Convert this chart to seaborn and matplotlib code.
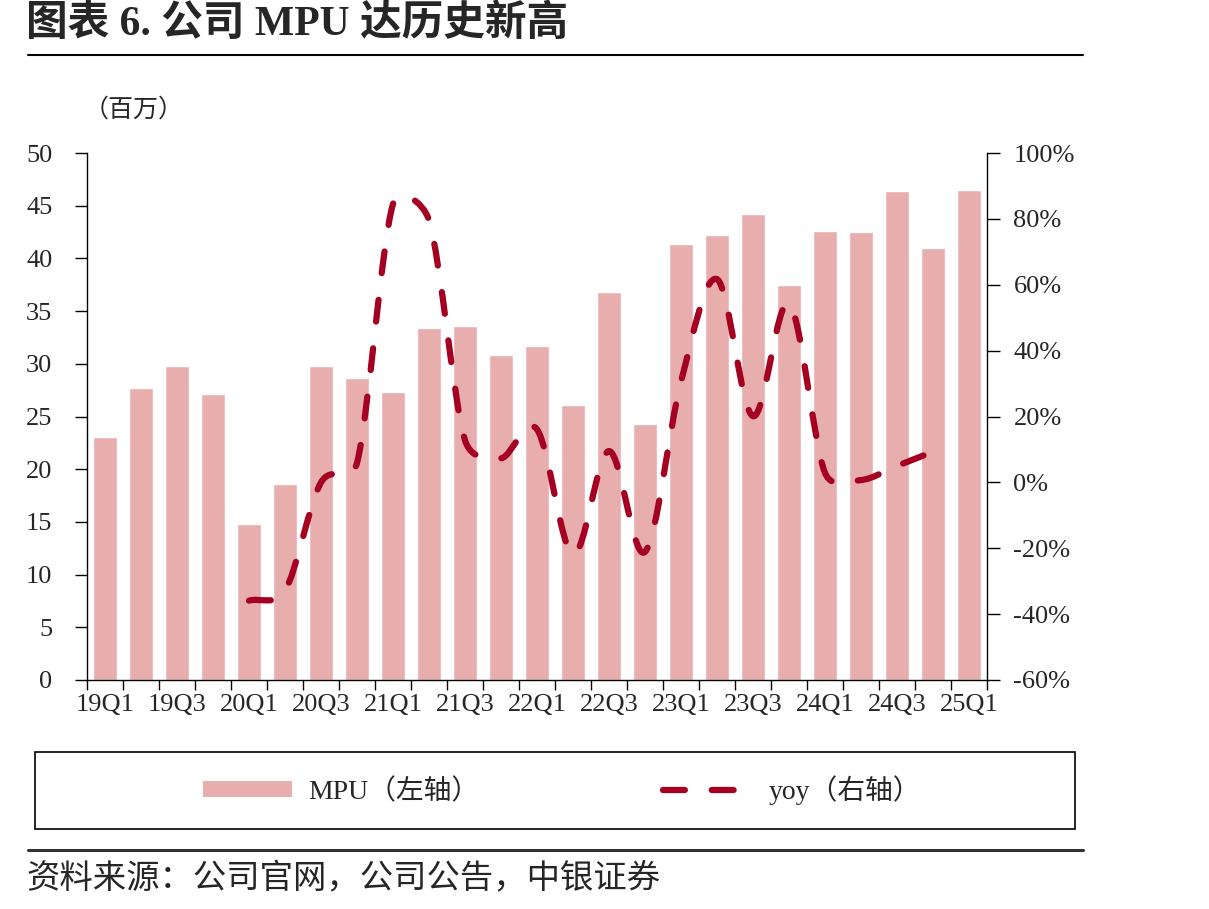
import numpy as np
import pandas as pd
import matplotlib
matplotlib.use("Agg")
import matplotlib.pyplot as plt
from matplotlib.path import Path
from matplotlib.patches import PathPatch, Patch, Rectangle
from matplotlib.lines import Line2D
from matplotlib.ticker import FuncFormatter, FixedLocator
import seaborn as sns

sns.set_style("ticks")
plt.rcParams['font.family'] = ['Liberation Serif', 'Noto Sans CJK SC', 'DejaVu Sans']
plt.rcParams['axes.unicode_minus'] = False

# data
quarters = ['19Q1', '19Q2', '19Q3', '19Q4', '20Q1', '20Q2', '20Q3', '20Q4',
            '21Q1', '21Q2', '21Q3', '21Q4', '22Q1', '22Q2', '22Q3', '22Q4',
            '23Q1', '23Q2', '23Q3', '23Q4', '24Q1', '24Q2', '24Q3', '24Q4', '25Q1']
mpu = [23.1, 27.7, 29.8, 27.1, 14.8, 18.6, 29.8, 28.7,
       27.3, 33.4, 33.6, 30.8, 31.7, 26.1, 36.8, 24.3,
       41.4, 42.2, 44.2, 37.5, 42.6, 42.5, 46.4, 41.0, 46.5]
yoy_quarters = quarters[4:24]
yoy = [-0.359, -0.329, 0.000, 0.059, 0.845, 0.796, 0.128, 0.073,
       0.161, -0.219, 0.095, -0.211, 0.306, 0.617, 0.201, 0.543,
       0.029, 0.007, 0.050, 0.093]

bar_color = '#E8AEAE'
line_color = '#A50021'
serif_cjk = ['Liberation Serif', 'Noto Sans CJK SC']
cjk = ['Noto Sans CJK SC', 'Liberation Serif']


def smooth_path(axis, xs, ys):
    # spreadsheet-style smoothed line: cubic bezier between points,
    # handles built in screen space and clamped to half a segment
    P = axis.transData.transform(np.column_stack([xs, ys]))
    n = len(P)
    verts = [P[0]]
    codes = [Path.MOVETO]
    for i in range(n - 1):
        p1, p2 = P[i], P[i + 1]
        p0 = P[i - 1] if i > 0 else p1
        p3 = P[i + 2] if i + 2 < n else p2
        d12 = np.hypot(*(p2 - p1))
        d02 = np.hypot(*(p2 - p0))
        d13 = np.hypot(*(p3 - p1))
        f0 = 1 / 3 if i == 0 else 1 / 6
        f1 = 1 / 3 if i + 2 >= n else 1 / 6
        if d02 * f0 > d12 / 2:
            f0 = d12 / 2 / d02
        if d13 * f1 > d12 / 2:
            f1 = d12 / 2 / d13
        verts += [p1 + (p2 - p0) * f0, p2 - (p3 - p1) * f1, p2]
        codes += [Path.CURVE4] * 3
    verts = axis.transData.inverted().transform(np.array(verts))
    return Path(verts, codes)


fig = plt.figure(figsize=(12.09, 9.09), dpi=100)
ax = fig.add_axes([87 / 1209, 1 - 680 / 909, 900 / 1209, 527 / 909])

df = pd.DataFrame({'quarter': quarters, 'mpu': mpu})
sns.barplot(data=df, x='quarter', y='mpu', color=bar_color, saturation=1,
            width=0.67, ax=ax)

ax.set_ylim(0, 50)
ax.set_xlim(-0.5, len(quarters) - 0.5)
ax.set_yticks(np.arange(0, 51, 5))
ax.set_xlabel('')
ax.set_ylabel('')
ax.xaxis.set_major_locator(FixedLocator(np.arange(0, len(quarters), 2)))
ax.set_xticklabels(quarters[::2])
ax.xaxis.set_minor_locator(FixedLocator(np.arange(-0.5, len(quarters), 1)))
ax.tick_params(axis='x', which='major', length=0, pad=10, labelsize=19)
ax.tick_params(axis='x', which='minor', length=7, width=1, direction='out', color='black')
ax.tick_params(axis='y', length=9, width=1, direction='out', pad=16, labelsize=19, color='black')
for s in ['left', 'bottom']:
    ax.spines[s].set_color('black')
    ax.spines[s].set_linewidth(1)
ax.spines['top'].set_visible(False)
ax.spines['right'].set_visible(False)

# yoy on the right axis
ax2 = ax.twinx()
ax2.set_ylim(-0.6, 1.0)
ax2.set_xlim(ax.get_xlim())
ax2.set_yticks(np.arange(-0.6, 1.01, 0.2))
ax2.yaxis.set_major_formatter(FuncFormatter(lambda v, p: f'{v * 100:.0f}%'))
ax2.tick_params(axis='y', length=9, width=1, direction='out', pad=10, labelsize=19, color='black')
for s in ['top', 'left', 'bottom']:
    ax2.spines[s].set_visible(False)
ax2.spines['right'].set_color('black')
ax2.spines['right'].set_linewidth(1)

xs = np.array([quarters.index(q) for q in yoy_quarters], dtype=float)
dash = (0, (3.5, 4.3))
curve = PathPatch(smooth_path(ax2, xs, np.array(yoy)), facecolor='none',
                  edgecolor=line_color, linewidth=4.5, linestyle=dash,
                  capstyle='round', joinstyle='round')
ax2.add_patch(curve)

# labels and decorations
fig.text(26 / 1209, 1 - 24 / 909, '图表 6. 公司 MPU 达历史新高', fontsize=30,
         fontweight='bold', family=serif_cjk, va='center', ha='left')
fig.add_artist(Line2D([28 / 1209, 1083 / 1209], [1 - 55 / 909] * 2,
                      transform=fig.transFigure, color='black', lw=1.5))
fig.text(84 / 1209, 1 - 110 / 909, '（百万）', fontsize=18, family=cjk,
         va='center', ha='left')

fig.add_artist(Rectangle((35 / 1209, 1 - 829 / 909), 1040 / 1209, 77 / 909,
                         transform=fig.transFigure, fill=False,
                         edgecolor='black', lw=1.2))
handles = [Patch(facecolor=bar_color, edgecolor='none'),
           Line2D([], [], color=line_color, lw=4.5, linestyle=dash,
                  dash_capstyle='round')]
fig.legend(handles, ['MPU（左轴）', 'yoy（右轴）'], loc='center',
           bbox_to_anchor=(562 / 1209, 1 - 790 / 909), ncol=2, frameon=False,
           prop={'family': serif_cjk, 'size': 20}, handlelength=3.2,
           handleheight=0.5, handletextpad=0.6, columnspacing=6.6)

fig.add_artist(Line2D([28 / 1209, 1083 / 1209], [1 - 850 / 909] * 2,
                      transform=fig.transFigure, color='#333333', lw=2.2))
fig.text(26 / 1209, 1 - 878 / 909, '资料来源：公司官网，公司公告，中银证券',
         fontsize=24, family=cjk, style='italic', va='center', ha='left')

fig.savefig('out.png', dpi=100)
